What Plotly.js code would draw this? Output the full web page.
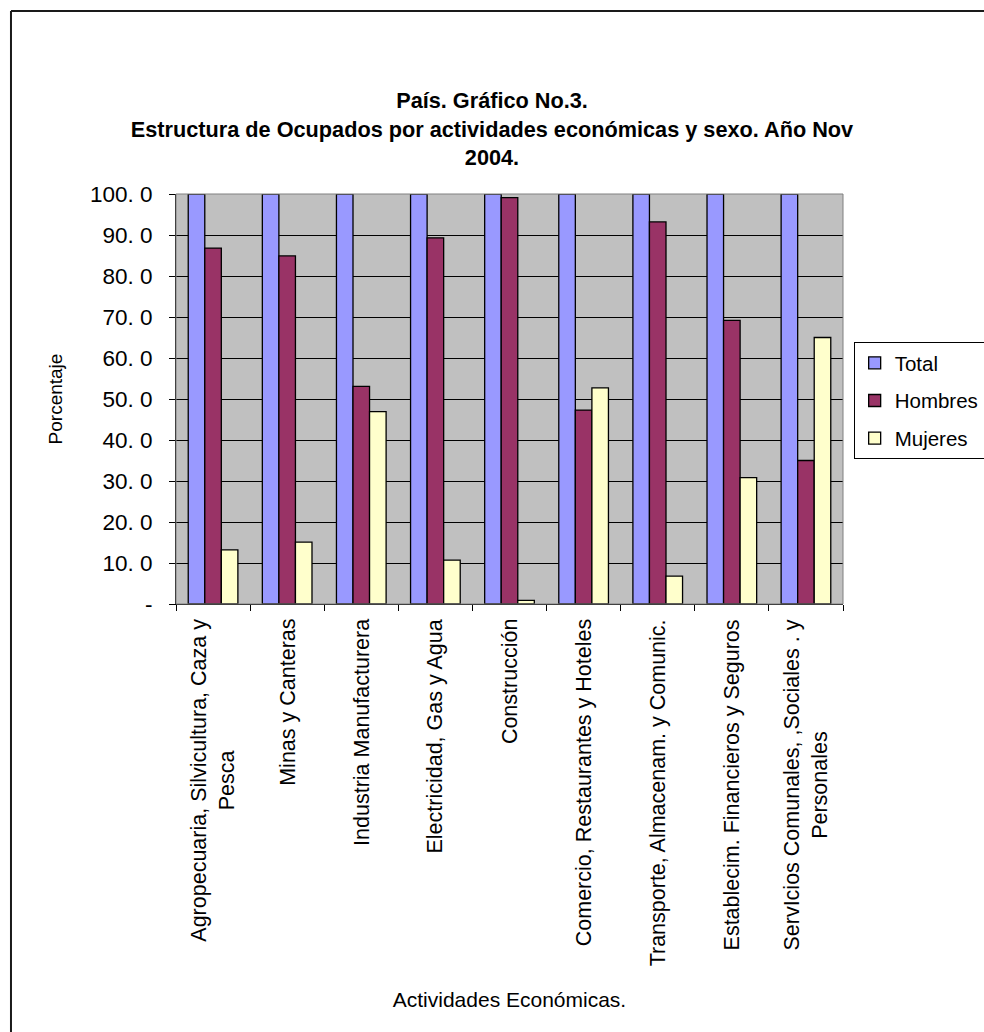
<!DOCTYPE html>
<html>
<head>
<meta charset="utf-8">
<script src="https://cdn.plot.ly/plotly-3.0.1.min.js"></script>
<style>
  html, body { margin: 0; padding: 0; background: #fff; overflow: hidden; }
  #chart { width: 984px; height: 1032px; }
</style>
</head>
<body>
<div id="chart"></div>
<script>
const categories = [
  "Agropecuaria, Silvicultura, Caza y<br>Pesca",
  "Minas y Canteras",
  "Industria Manufacturera",
  "Electricidad, Gas y Agua",
  "Construcción",
  "Comercio, Restaurantes y Hoteles",
  "Transporte, Almacenam. y Comunic.",
  "Establecim. Financieros y Seguros",
  "ServIcios Comunales, ,Sociales . y<br>Personales"
];
const total   = [100, 100, 100, 100, 100, 100, 100, 100, 100];
const hombres = [86.8, 84.9, 53.1, 89.3, 99.1, 47.3, 93.2, 69.2, 35.0];
const mujeres = [13.2, 15.1, 46.9, 10.7, 0.9, 52.7, 6.8, 30.8, 65.0];
const yTickVals = [0, 10, 20, 30, 40, 50, 60, 70, 80, 90, 100];
const yTickText = ["-", "10. 0", "20. 0", "30. 0", "40. 0", "50. 0", "60. 0", "70. 0", "80. 0", "90. 0", "100. 0"];

const FONT = "Liberation Sans, Arial, sans-serif";
const outline = { color: "#000000", width: 1.3 };

const traces = [
  { type: "bar", name: "Total", x: categories, y: total,
    marker: { color: "#9999FF", line: outline }, legendgroup: "a" },
  { type: "bar", name: "Hombres", x: categories, y: hombres,
    marker: { color: "#993366", line: outline }, legendgroup: "b" },
  { type: "bar", name: "Mujeres", x: categories, y: mujeres,
    marker: { color: "#FFFFCC", line: outline }, legendgroup: "c" }
];

// category labels placed under each category, centred multi-line like the original
const labelAnnotations = categories.map(c => ({
  xref: "x", yref: "paper", x: c, y: -0.032,
  xanchor: "center", yanchor: "top",
  text: c, textangle: -90, align: "center", showarrow: false,
  font: { family: FONT, size: 21.5, color: "#000000" }
}));

// outer chart frame (left and top edges visible in the original)
const frameX = -0.2474, frameY = 1.4463;

const layout = {
  width: 984, height: 1032,
  margin: { l: 176, r: 141, t: 194, b: 428, pad: 0, autoexpand: false },
  paper_bgcolor: "#ffffff",
  plot_bgcolor: "#C0C0C0",
  font: { family: FONT, size: 21, color: "#000000" },
  barmode: "group",
  bargap: 0.33,
  bargroupgap: 0,
  showlegend: true,
  title: {
    text: "<b>País. Gráfico No.3.<br>Estructura de Ocupados por actividades económicas y sexo. Año Nov<br>2004.</b>",
    font: { family: FONT, size: 21.7, color: "#000000" },
    x: 0.5, xref: "container", xanchor: "center",
    y: 0.895, yref: "container", yanchor: "top"
  },
  xaxis: {
    type: "category",
    ticks: "outside", ticklen: 6, tickcolor: "#000000", tickwidth: 1,
    tickson: "boundaries",
    showticklabels: false,
    showline: true, linecolor: "#000000", linewidth: 1,
    showgrid: false, zeroline: false,
    automargin: false,
    title: { text: "Actividades Económicas.", font: { family: FONT, size: 21, color: "#000000" }, standoff: 388 }
  },
  yaxis: {
    range: [0, 100],
    tickmode: "array", tickvals: yTickVals, ticktext: yTickText,
    ticks: "outside", ticklen: 6, tickcolor: "#000000", tickwidth: 1,
    ticklabelstandoff: 12,
    showline: true, linecolor: "#000000", linewidth: 1,
    showgrid: true, gridcolor: "#000000", gridwidth: 1,
    zeroline: false,
    tickfont: { family: FONT, size: 22.5, color: "#000000" },
    automargin: false,
    title: { text: "Porcentaje", font: { family: FONT, size: 19, color: "#000000" }, standoff: 22 }
  },
  legend: {
    x: 1.016, xanchor: "left",
    y: 0.639, yanchor: "top",
    bgcolor: "#ffffff", bordercolor: "#000000", borderwidth: 1,
    font: { family: FONT, size: 20.5, color: "#000000" },
    tracegroupgap: 8,
    traceorder: "grouped"
  },
  annotations: labelAnnotations,
  shapes: [
    { type: "rect", xref: "paper", yref: "paper", x0: 0, x1: 1, y0: 0, y1: 1,
      line: { color: "#808080", width: 1 }, fillcolor: "rgba(0,0,0,0)", layer: "above" },
    { type: "line", xref: "paper", yref: "paper", x0: frameX, x1: frameX, y0: -1.2, y1: frameY,
      line: { color: "#1a1a1a", width: 2 } },
    { type: "line", xref: "paper", yref: "paper", x0: frameX, x1: 1.5, y0: frameY, y1: frameY,
      line: { color: "#1a1a1a", width: 2 } }
  ]
};

Plotly.newPlot("chart", traces, layout, { displayModeBar: false, staticPlot: true });
</script>
</body>
</html>
